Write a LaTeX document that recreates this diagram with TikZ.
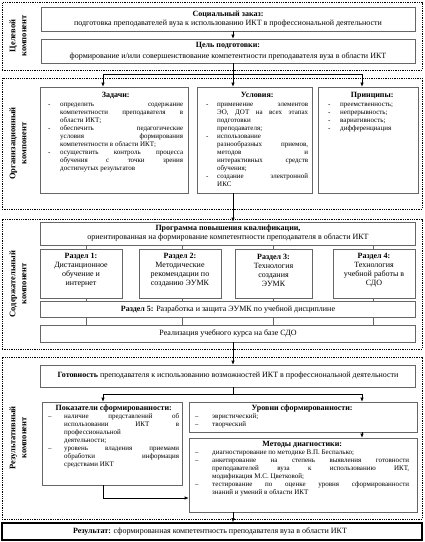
\documentclass[tikz,border=0pt]{standalone}
\usepackage{fontspec}
\setmainfont{Liberation Serif}
\usetikzlibrary{arrows.meta}
\newcommand\mainfs{\fontsize{8}{9}\selectfont}
\newcommand\listfs{\fontsize{7}{8}\selectfont}
\newcommand\labfs{\fontsize{8.5}{11}\selectfont}
\newcommand\hd[1]{\multicolumn{2}{c}{\mainfs\textbf{#1}}}
\newcommand\jl[1]{\makebox[\linewidth][s]{#1}}
\newcommand\mkbox[6][box]{\node[#1, minimum width={(#5-#3)*1pt}, minimum height={(#6-#4)*1pt}] (#2) at ({(#3+#5)/2},{(#4+#6)/2}) {};}
\begin{document}
\begin{tikzpicture}[x=1pt,y=-1pt,
  box/.style={draw=black!60, line width=0.6pt, inner sep=0pt},
  sect/.style={draw=black, line width=0.8pt, dash pattern=on 1.3pt off 1pt, inner sep=0pt},
  resbox/.style={draw=black, line width=1.6pt, inner sep=0pt},
  arr/.style={draw=black, line width=0.6pt, -{Latex[length=4pt,width=3.4pt]}},
  ln/.style={draw=black, line width=0.6pt},
  gln/.style={draw=black!60, line width=0.6pt},
  txt/.style={inner sep=0pt, align=center, font=\mainfs},
  lst/.style={inner sep=0pt, anchor=north west, font=\listfs},
  lab/.style={inner sep=0pt, align=center, rotate=90, font=\labfs\bfseries}]
\useasboundingbox (0,0) rectangle (425,542);
\coordinate (cx) at (233,0);
\coordinate (cl) at (103,0);
\coordinate (cr) at (362,0);
% ---- section 1
\mkbox[sect]{s1}{2}{2}{422}{70}
\mkbox{soc}{41}{7}{415}{31}
\mkbox{goal}{41}{39}{415}{63}
\node[txt] (socT) at (228,19) {\textbf{Социальный заказ:}\\подготовка преподавателей вуза к использованию ИКТ в профессиональной деятельности};
\node[txt] (goalT) at (228,51) {\textbf{Цель подготовки:}\\[2pt]формирование и/или совершенствование компетентности преподавателя вуза в области ИКТ};
\node[lab] (l1) at (18,36) {Целевой\\компонент};
\draw[arr] (soc.south -| cx) -- (goal.north -| cx);
% ---- section 2
\mkbox[sect]{s2}{2}{78}{422}{209}
\mkbox{zad}{40}{87}{188}{193}
\mkbox{usl}{197}{87}{312}{193}
\mkbox{pri}{318}{87}{418}{193}
\node[lab] (l2) at (18,143.5) {Организационный\\компонент};
\coordinate (j1) at (233,74);
\draw[ln] (goal.south -| cx) -- (j1);
\draw[ln] (j1 -| cl) -- (j1 -| cr);
\draw[arr] (j1 -| cl) -- (zad.north -| cl);
\draw[arr] (j1) -- (usl.north -| cx);
\draw[arr] (j1 -| cr) -- (pri.north -| cr);
\node[lst] (zadT) at (48,91.5) {\begin{tabular}{@{}p{12pt}@{}p{123pt}@{}}
\hd{Задачи:}\\[1.5pt]
- & \jl{определить содержание}\\
  & \jl{компетентности преподавателя в}\\
  & области ИКТ;\\
- & \jl{обеспечить педагогические}\\
  & \jl{условия формирования}\\
  & компетентности в области ИКТ;\\
- & \jl{осуществить контроль процесса}\\
  & \jl{обучения с точки зрения}\\
  & достигнутых результатов
\end{tabular}};
\node[lst] (uslT) at (206,91.5) {\begin{tabular}{@{}p{11pt}@{}p{91pt}@{}}
\hd{Условия:}\\[1pt]
- & \jl{применение элементов}\\
  & \jl{ЭО, ДОТ на всех этапах}\\
  & подготовки\\
  & преподавателя;\\
- & использование\\
  & \jl{разнообразных приемов,}\\
  & \jl{методов и}\\
  & \jl{интерактивных средств}\\
  & обучения;\\
- & \jl{создание электронной}\\
  & ИКС
\end{tabular}};
\node[lst] (priT) at (328,91.5) {\begin{tabular}{@{}p{12pt}@{}p{76pt}@{}}
\hd{Принципы:}\\[1pt]
- & преемственность;\\
- & непрерывность;\\
- & вариативность;\\
- & дифференциация
\end{tabular}};
% ---- section 3
\mkbox[sect]{s3}{2}{219}{422}{349}
\mkbox{prog}{40}{222}{415}{245}
\mkbox{r1}{40}{249}{122}{298}
\mkbox{r2}{139}{249}{221}{298}
\mkbox{r3}{235}{249}{312}{298}
\mkbox{r4}{333}{249}{415}{298}
\mkbox{r5}{40}{301}{415}{317}
\mkbox{real}{40}{325}{415}{342}
\draw[arr] (usl.south -| cx) -- (prog.north -| cx);
\node[lab] (l3) at (18,284) {Содержательный\\компонент};
\node[txt] (progT) at (228,233.5) {\textbf{Программа повышения квалификации,}\\ориентированная на формирование компетентности преподавателя в области ИКТ};
\node[txt] (r1T) at (81,270.5) {\textbf{Раздел 1:}\\Дистанционное\\обучение и\\интернет};
\node[txt] (r2T) at (180,270.5) {\textbf{Раздел 2:}\\Методические\\рекомендации по\\созданию ЭУМК};
\node[txt] (r3T) at (273.5,270.5) {\textbf{Раздел 3:}\\Технология\\создания\\ЭУМК};
\node[txt] (r4T) at (374,270.5) {\textbf{Раздел 4:}\\Технология\\учебной работы в\\СДО};
\node[txt] (r5T) at (228,309) {\textbf{Раздел 5:} Разработка и защита ЭУМК по учебной дисциплине};
\node[txt] (realT) at (228,333.5) {Реализация учебного курса на базе СДО};
\coordinate (c1) at (86,0);
\coordinate (c2) at (182,0);
\coordinate (c3) at (273,0);
\coordinate (c4) at (373,0);
\draw[gln] (prog.south -| c1) -- (r1.north -| c1);
\draw[gln] (prog.south -| c2) -- (r2.north -| c2);
\draw[gln] (prog.south -| c3) -- (r3.north -| c3);
\draw[gln] (prog.south -| c4) -- (r4.north -| c4);
\draw[gln] (r1.south -| c1) -- (r5.north -| c1);
\draw[gln] (r2.south -| c2) -- (r5.north -| c2);
\draw[gln] (r3.south -| c3) -- (r5.north -| c3);
\draw[gln] (r4.south -| c4) -- (r5.north -| c4);
\draw[gln] (r5.south -| c1) -- (real.north -| c1);
\draw[gln] (r5.south -| c2) -- (real.north -| c2);
\draw[gln] (r5.south -| c3) -- (real.north -| c3);
\draw[gln] (r5.south -| c4) -- (real.north -| c4);
% ---- section 4
\mkbox[sect]{s4}{2}{357}{422}{519}
\mkbox{got}{40}{365}{415}{387}
\mkbox{pok}{42}{402}{182}{485}
\mkbox{urv}{189}{402}{417}{432}
\mkbox{met}{189}{438}{417}{512}
\draw[arr] (real.south -| cx) -- (got.north -| cx);
\node[lab] (l4) at (18,438) {Результативный\\компонент};
\node[txt] (gotT) at (228,376) {\textbf{Готовность} преподавателя к использованию возможностей ИКТ в профессиональной деятельности};
\coordinate (j2) at (233,394);
\draw[ln] (got.south -| cx) -- (j2);
\draw[ln] (j2 -| cl) -- (j2 -| cr);
\draw[arr] (j2 -| cl) -- (pok.north -| cl);
\draw[arr] (j2 -| cr) -- (urv.north -| cr);
\draw[arr] (urv.south -| cr) -- (met.north -| cr);
\coordinate (j3) at (103,498);
\draw[arr] (pok.south -| cl) -- (j3) -- (j3 -| met.west);
\node[lst] (pokT) at (48,405) {\begin{tabular}{@{}p{16pt}@{}p{115pt}@{}}
\hd{Показатели сформированности:}\\
– & \jl{наличие представлений об}\\
  & \jl{использовании ИКТ в}\\
  & профессиональной\\
  & деятельности;\\
– & \jl{уровень владения приемами}\\
  & \jl{обработки информация}\\
  & средствами ИКТ
\end{tabular}};
\node[lst] (urvT) at (195,405) {\begin{tabular}{@{}p{17pt}@{}p{197pt}@{}}
\hd{Уровни сформированности:}\\
– & эвристический;\\
– & творческий
\end{tabular}};
\node[lst] (metT) at (195,440.5) {\begin{tabular}{@{}p{17pt}@{}p{197pt}@{}}
\hd{Методы диагностики:}\\
– & диагностирование по методике В.П. Беспалько;\\
– & \jl{анкетирование на степень выявления готовности}\\
  & \jl{преподавателей вуза к использованию ИКТ,}\\
  & модификация М.С. Цветковой;\\
– & \jl{тестирование по оценке уровня сформированности}\\
  & знаний и умений в области ИКТ
\end{tabular}};
% ---- result
\mkbox[resbox]{res}{2}{523}{422}{540}
\node[txt] (resT) at (210,531.5) {\textbf{Результат:} сформированная компетентность преподавателя вуза в области ИКТ};
\draw[arr] (met.south -| cx) -- (res.north -| cx);
\end{tikzpicture}
\end{document}
